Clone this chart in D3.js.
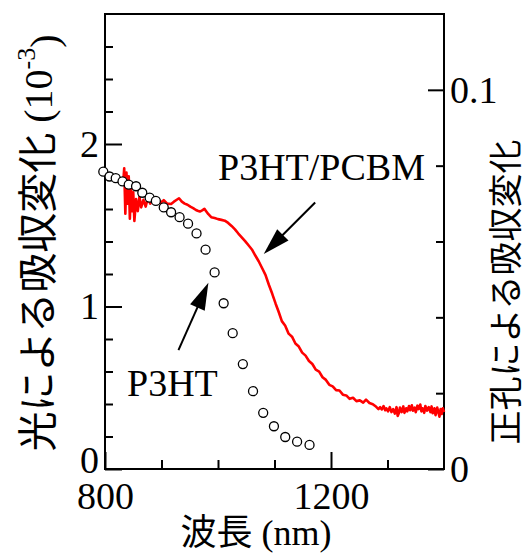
<!DOCTYPE html>
<html><head><meta charset="utf-8">
<script src="https://cdn.jsdelivr.net/npm/d3@7/dist/d3.min.js"></script>
<style>
html,body{margin:0;padding:0;background:#fff;}
svg{display:block;}
text{font-family:"Liberation Serif","Times New Roman",Times,"DejaVu Serif",serif;}
text.cjk{font-family:"Liberation Serif","Times New Roman","Noto Sans CJK JP",serif;}
</style></head>
<body>
<svg id="chart" width="529" height="553"></svg>
<script>
// ---- data ----
const p3htWavelength = [797,808,819,831,842,855,866,879,890,904,917,932,947,962,978,994,1010,1026,1044,1062,1080,1099,1119,1140,1162];
const p3htSignal = [1.83,1.80,1.79,1.77,1.75,1.74,1.70,1.67,1.65,1.61,1.58,1.55,1.51,1.45,1.35,1.21,1.02,0.836,0.646,0.479,0.346,0.263,0.197,0.168,0.148];

const blendWavelength = [
 832,834,836,838,840,842,844,846,848,850,
 852,855,858,861,864,868,872,876,880,884,
 888,893,898,904,910,917,922,927,931,936,
 941,946,951,956,961,964,968,972,976,979,
 983,988,994,1000,1006,1012,1018,1024,1030,1036,
 1042,1048,1054,1060,1066,1072,1078,1084,1090,1096,
 1102,1107,1113,1119,1125,1131,1137,1143,1149,1155,
 1161,1167,1173,1179,1185,1191,1197,1203,1209,1215,
 1221,1227,1233,1239,1245,1251,1257,1262,1268,1274,
 1280,1284,1287,1290,1293,1296,1298,1301,1304,1307,
 1310,1313,1316,1318,1320,1322,1325,1328,1330,1333,
 1335,1338,1340,1343,1345,1348,1350,1353,1355,1358,
 1360,1362,1365,1367,1370,1373,1376,1378,1380,1383,
 1385,1388,1390,1392,1394,1396,1398,1400];
const blendSignal = [
 .0750,.0793,.0673,.0782,.0700,.0772,.0660,.0744,.0680,.0730,
 .0654,.0712,.0680,.0718,.0690,.0710,.0692,.0716,.0700,.0712,
 .0702,.0708,.0702,.0709,.0700,.0699,.0705,.0710,.0714,.0705,
 .0700,.0697,.0692,.0688,.0683,.0681,.0679,.0682,.0686,.0680,
 .0672,.0664,.0662,.0659,.0657,.0655,.0649,.0641,.0632,.0621,
 .0611,.0601,.0590,.0579,.0563,.0548,.0530,.0512,.0486,.0462,
 .0436,.0416,.0390,.0378,.0357,.0349,.0331,.0323,.0307,.0299,
 .0285,.0277,.0262,.0257,.0242,.0235,.0222,.0218,.0208,.0207,
 .0196,.0194,.0185,.0188,.0179,.0181,.0175,.0183,.0174,.0171,
 .0164,.0158,.0163,.0157,.0166,.0155,.0160,.0152,.0163,.0150,
 .0158,.0146,.0163,.0140,.0147,.0162,.0150,.0165,.0148,.0160,
 .0152,.0166,.0155,.0168,.0154,.0162,.0150,.0167,.0158,.0170,
 .0152,.0160,.0148,.0166,.0154,.0163,.0150,.0165,.0147,.0160,
 .0142,.0162,.0150,.0138,.0158,.0145,.0160,.0150];

const xMajorTicks = [800,1200];
const xMinorTicks = [900,1000,1100,1300];
const yLeftMajorTicks = [0,1,2];
const yLeftMinorTicks = [0.2,0.4,0.6,0.8,1.2,1.4,1.6,1.8,2.2,2.4,2.6];
const yRightMajorTicks = [0,0.1];
const yRightMinorTicks = [0.02,0.04,0.06,0.08];

// annotations (data coordinates: wavelength, left-axis units)
const labelBlend = {text:"P3HT/PCBM", x:1000, y:1.778, tail:[1172,1.64], tip:[1081,1.323]};
const labelP3ht = {text:"P3HT", x:839, y:0.449, tail:[930,0.732], tip:[983,1.146]};

// ---- layout ----
const L=105, R=444, T=14, B=469;
const svg = d3.select("#chart");

const x = d3.scaleLinear().domain([800,1400]).range([L,R]);
const yL = d3.scaleLinear().domain([0,2.8]).range([B,T]);
const yR = d3.scaleLinear().domain([0,0.12]).range([B,T]);

function styleAxis(g){
  g.attr("font-family",null).attr("font-size",null);
  g.select(".domain").remove();
  g.selectAll(".tick line").attr("stroke","#000").attr("stroke-width",2);
  g.selectAll(".tick text").attr("fill","#000").style("font-size","38px");
}

// x axis
svg.append("g").attr("transform",`translate(0,${B})`)
  .call(d3.axisBottom(x).tickValues(xMinorTicks).tickSizeInner(-9).tickSizeOuter(0).tickFormat(""))
  .call(styleAxis);
svg.append("g").attr("transform",`translate(0,${B})`)
  .call(d3.axisBottom(x).tickValues(xMajorTicks).tickSizeInner(-17).tickSizeOuter(0).tickPadding(13).tickFormat(d3.format("d")))
  .call(styleAxis);

// left axis
svg.append("g").attr("transform",`translate(${L},0)`)
  .call(d3.axisLeft(yL).tickValues(yLeftMinorTicks).tickSizeInner(-8).tickSizeOuter(0).tickFormat(""))
  .call(styleAxis);
const leftMajor = svg.append("g").attr("transform",`translate(${L},0)`)
  .call(d3.axisLeft(yL).tickValues(yLeftMajorTicks).tickSizeInner(-17).tickSizeOuter(0).tickPadding(6).tickFormat(d3.format("d")))
  .call(styleAxis);
leftMajor.selectAll(".tick text").filter(d=>d===0).attr("dy","0.08em");

// right axis
svg.append("g").attr("transform",`translate(${R},0)`)
  .call(d3.axisRight(yR).tickValues(yRightMinorTicks).tickSizeInner(-8).tickSizeOuter(0).tickFormat(""))
  .call(styleAxis);
svg.append("g").attr("transform",`translate(${R},0)`)
  .call(d3.axisRight(yR).tickValues(yRightMajorTicks).tickSizeInner(-16).tickSizeOuter(0).tickPadding(6).tickFormat(d=> d===0?"0":d3.format(".1f")(d)))
  .call(styleAxis);

// frame
svg.append("rect").attr("x",L).attr("y",T).attr("width",R-L).attr("height",B-T)
  .attr("fill","none").attr("stroke","#000").attr("stroke-width",2);

// red blend line (right axis)
const blendData = blendWavelength.map((w,i)=>({w, v:blendSignal[i]}));
svg.append("path").datum(blendData)
  .attr("fill","none").attr("stroke","#ff0000").attr("stroke-width",2.6)
  .attr("stroke-linejoin","round")
  .attr("d", d3.line().x(d=>x(d.w)).y(d=>yR(d.v)));

// P3HT circles (left axis)
const p3htData = p3htWavelength.map((w,i)=>({w, v:p3htSignal[i]}));
svg.append("g").selectAll("circle").data(p3htData).join("circle")
  .attr("cx",d=>x(d.w)).attr("cy",d=>yL(d.v)).attr("r",4.5)
  .attr("fill","#fff").attr("stroke","#000").attr("stroke-width",1.3);

// annotations
function arrow(a){
  const x0=x(a.tail[0]), y0=yL(a.tail[1]), x1=x(a.tip[0]), y1=yL(a.tip[1]);
  const dx=x1-x0, dy=y1-y0, len=Math.hypot(dx,dy), ux=dx/len, uy=dy/len;
  const hl=27, hw=8;
  const bx=x1-ux*hl, by=y1-uy*hl;
  svg.append("line").attr("x1",x0).attr("y1",y0).attr("x2",bx+ux*2).attr("y2",by+uy*2)
    .attr("stroke","#000").attr("stroke-width",2);
  svg.append("path").attr("d",`M${x1},${y1}L${bx-uy*hw},${by+ux*hw}L${bx+uy*hw},${by-ux*hw}Z`)
    .attr("fill","#000");
  svg.append("text").attr("x",x(a.x)).attr("y",yL(a.y)).text(a.text)
    .style("font-size","38px").attr("fill","#000");
}
arrow(labelBlend);
arrow(labelP3ht);

// axis titles
svg.append("text").attr("class","cjk").attr("x",256).attr("y",533).attr("text-anchor","middle")
  .attr("dominant-baseline","central")
  .style("font-size","36px").text("波長 (nm)");

const lt = svg.append("text").attr("class","cjk").attr("transform","translate(38,243) rotate(-90)")
  .attr("text-anchor","middle").attr("dominant-baseline","central")
  .style("font-size","40px");
lt.append("tspan").text("光による吸収変化 (10");
lt.append("tspan").attr("dy","-0.45em").style("font-size","26px").text("-3");
lt.append("tspan").attr("dy","0.45em").text(")");

svg.append("text").attr("class","cjk").attr("transform","translate(506,292) rotate(-90)")
  .attr("text-anchor","middle").attr("dominant-baseline","central")
  .style("font-size","34px").text("正孔による吸収変化");
</script>
</body></html>
